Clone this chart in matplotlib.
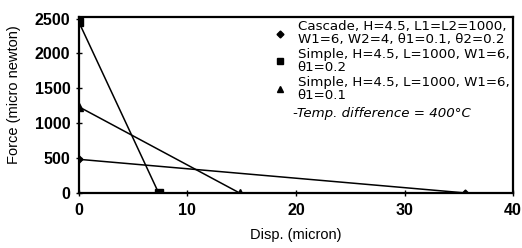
import matplotlib
matplotlib.use("Agg")
from matplotlib import pyplot as plt
from matplotlib.lines import Line2D

plt.rcParams['font.family'] = ['Liberation Sans', 'DejaVu Sans']

# data
cascade_x = [0, 35.6]
cascade_y = [482, 0]
simple2_x = [0, 7.35]
simple2_y = [2450, 0]
simple1_x = [0, 14.8]
simple1_y = [1235, 0]

labels = ['Cascade, H=4.5, L1=L2=1000,\nW1=6, W2=4, θ1=0.1, θ2=0.2',
          'Simple, H=4.5, L=1000, W1=6,\nθ1=0.2',
          'Simple, H=4.5, L=1000, W1=6,\nθ1=0.1']
note = '-Temp. difference = 400°C'

fig = plt.figure(figsize=(5.22, 2.48), dpi=100)
ax = fig.add_axes([0.151, 0.222, 0.832, 0.709])

ax.plot(cascade_x, cascade_y, '-', c='black', lw=1.1, marker='D', ms=3.5)
ax.plot(simple2_x, simple2_y, '-', c='black', lw=1.1, marker='s', ms=6)
ax.plot(simple1_x, simple1_y, '-', c='black', lw=1.1, marker='^', ms=6)

ax.set_xlim(0, 40)
ax.set_ylim(0, 2520)
ax.set_xticks([0, 10, 20, 30, 40])
ax.set_yticks([0, 500, 1000, 1500, 2000, 2500])
ax.tick_params(direction='inout', length=5, width=1, labelsize=11.5)
ax.tick_params(axis='x', pad=5)
for t in ax.get_xticklabels() + ax.get_yticklabels():
    t.set_fontweight('bold')
for s in ax.spines.values():
    s.set_linewidth(1.6)

ax.set_xlabel('Disp. (micron)', fontsize=10.5, labelpad=7)
ax.set_ylabel('Force (micro newton)', fontsize=10.5)
ax.yaxis.set_label_coords(-0.132, 0.56)

handles = [Line2D([], [], ls='none', marker='D', ms=3.5, c='black'),
           Line2D([], [], ls='none', marker='s', ms=5, c='black'),
           Line2D([], [], ls='none', marker='^', ms=5, c='black')]
leg = ax.legend(handles, labels, loc='upper left', bbox_to_anchor=(0.413, 1.0),
                prop={'family': 'DejaVu Sans', 'size': 9.6},
                frameon=False, borderaxespad=0, handlelength=2.7,
                handletextpad=0.0, labelspacing=0.12, borderpad=0.25)
for t in leg.get_texts():
    t.set_linespacing(1.0)
ax.text(0.493, 0.449, note, transform=ax.transAxes, fontsize=9.6,
        family='DejaVu Sans', style='italic', va='center', ha='left')

plt.savefig('out.png', dpi=100)
